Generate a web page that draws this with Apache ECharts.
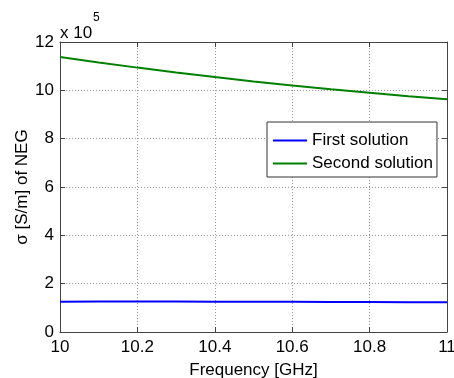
<!DOCTYPE html>
<html><head><meta charset="utf-8">
<script src="https://cdn.jsdelivr.net/npm/echarts@6/dist/echarts.min.js"></script>
<style>html,body{margin:0;padding:0;background:#fff}#c{width:454px;height:378px}</style>
</head><body><div id="c"></div>
<script>
const freq = [10.0, 10.1, 10.2, 10.3, 10.4, 10.5, 10.6, 10.7, 10.8, 10.9, 11.0];
const firstSolution = [125000, 126000, 126000, 126000, 125000, 125000, 125000, 124000, 124000, 123000, 123000];
const secondSolution = [1138000, 1115000, 1094000, 1074000, 1055000, 1037000, 1020000, 1004000, 990000, 976000, 963000];
const seriesNames = ['First solution', 'Second solution'];
const xTicks = [10, 10.2, 10.4, 10.6, 10.8, 11];
const yTicks = [0, 2, 4, 6, 8, 10, 12];
const yExponent = 5;

const FONT = 'Liberation Sans';
const FS = 17;
const axisCol = '#444';
const fmtX = v => { const r = Math.round(v*10)/10; return Number.isInteger(r) ? String(r) : r.toFixed(1); };
const fmtY = v => String(Math.round(v / Math.pow(10, yExponent)));
const scale = Math.pow(10, yExponent);

const chart = echarts.init(document.getElementById('c'), null, {renderer: 'canvas'});
const baseX = {
  type: 'value', min: xTicks[0], max: xTicks[xTicks.length-1], interval: 0.2,
  axisLine: {show: true, onZero: false, lineStyle: {color: axisCol, width: 1}},
  axisTick: {show: true, inside: true, length: 5, lineStyle: {color: axisCol}},
};
const baseY = {
  type: 'value', min: yTicks[0]*scale, max: yTicks[yTicks.length-1]*scale, interval: 2*scale,
  axisLine: {show: true, onZero: false, lineStyle: {color: axisCol, width: 1}},
  axisTick: {show: true, inside: true, length: 5, lineStyle: {color: axisCol}},
};
chart.setOption({
  animation: false,
  textStyle: {fontFamily: FONT},
  grid: {left: 60, top: 42, right: 7, bottom: 46, containLabel: false, outerBoundsMode: 'none'},
  xAxis: [
    Object.assign({}, baseX, {
      position: 'bottom',
      name: 'Frequency [GHz]', nameLocation: 'middle', nameGap: 30, nameMoveOverlap: false,
      nameTextStyle: {fontFamily: FONT, fontSize: FS, color: '#000'},
      axisLabel: {formatter: fmtX, fontFamily: FONT, fontSize: FS, color: '#000', margin: 7},
      splitLine: {show: true, lineStyle: {type: [1, 2], color: '#999', width: 1}}
    }),
    Object.assign({}, baseX, {position: 'top', axisLabel: {show: false}, splitLine: {show: false}})
  ],
  yAxis: [
    Object.assign({}, baseY, {
      position: 'left',
      name: 'σ [S/m] of NEG', nameLocation: 'middle', nameGap: 29, nameRotate: 90, nameMoveOverlap: false,
      nameTextStyle: {fontFamily: FONT, fontSize: FS, color: '#000'},
      axisLabel: {formatter: fmtY, fontFamily: FONT, fontSize: FS, color: '#000', margin: 6},
      splitLine: {show: true, lineStyle: {type: [1, 2], color: '#999', width: 1}}
    }),
    Object.assign({}, baseY, {position: 'right', axisLabel: {show: false}, splitLine: {show: false}})
  ],
  legend: {
    show: true, orient: 'vertical', left: 267, top: 122,
    data: seriesNames, icon: 'rect', itemWidth: 34, itemHeight: 2, itemGap: 6,
    padding: [10, 4, 5, 6], borderColor: '#333', borderWidth: 1, backgroundColor: '#fff',
    textStyle: {fontFamily: FONT, fontSize: FS, color: '#000', padding: [0,0,0,0]},
    z: 10
  },
  graphic: [
    {type: 'text', left: 60, top: 25, style: {text: 'x 10', font: FS + 'px "Liberation Sans"', fill: '#000'}},
    {type: 'text', left: 93, top: 12, style: {text: String(yExponent), font: '12px "Liberation Sans"', fill: '#000'}}
  ],
  series: [
    {name: seriesNames[0], type: 'line', symbol: 'none', color: '#0000ff',
     lineStyle: {width: 2, color: '#0000ff'}, data: freq.map((f,i) => [f, firstSolution[i]])},
    {name: seriesNames[1], type: 'line', symbol: 'none', color: '#008000',
     lineStyle: {width: 2, color: '#008000'}, data: freq.map((f,i) => [f, secondSolution[i]])}
  ]
});
</script></body></html>
